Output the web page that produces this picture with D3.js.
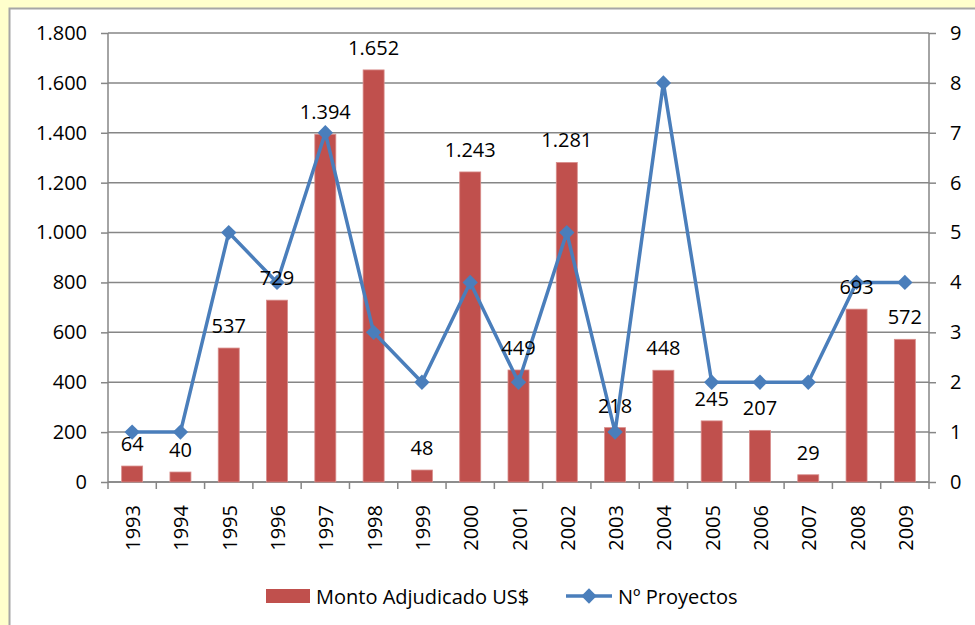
<!DOCTYPE html>
<html>
<head>
<meta charset="utf-8">
<script src="https://cdn.jsdelivr.net/npm/d3@7"></script>
<style>
  html, body { margin: 0; padding: 0; background: #ffffcc; }
  svg { display: block; }
  text { font-family: "Open Sans", "Noto Sans", sans-serif; fill: #000; }
</style>
</head>
<body>
<svg id="chart"></svg>
<script>
// data ////////////////////////////////////////////////////////////////
var years = ["1993", "1994", "1995", "1996", "1997", "1998", "1999", "2000", "2001",
             "2002", "2003", "2004", "2005", "2006", "2007", "2008", "2009"];
var montos = [64, 40, 537, 729, 1394, 1652, 48, 1243, 449, 1281, 218, 448, 245, 207, 29, 693, 572];
var proyectos = [1, 1, 5, 4, 7, 3, 2, 4, 2, 5, 1, 8, 2, 2, 2, 4, 4];
var leftTicks = [0, 200, 400, 600, 800, 1000, 1200, 1400, 1600, 1800];
var rightTicks = [0, 1, 2, 3, 4, 5, 6, 7, 8, 9];
var seriesNames = ["Monto Adjudicado US$", "Nº Proyectos"];

var WIDTH = 975, HEIGHT = 625;
var LEFT = 108, RIGHT = 929, TOP = 33, BOTTOM = 482;
var BAR_COLOUR = "#c0504d", LINE_COLOUR = "#4a7ebb", GRID_COLOUR = "#868686";
var FONT_SIZE = 20;

// spanish number format: 1.394
var fmt = d3.formatLocale({ decimal: ",", thousands: ".", grouping: [3], currency: ["", ""] }).format(",d");

var svg = d3.select("#chart").attr("width", WIDTH).attr("height", HEIGHT);

// white chart area with gray border
svg.append("rect")
    .attr("x", 9.5).attr("y", 8.5)
    .attr("width", WIDTH).attr("height", HEIGHT)
    .attr("fill", "white")
    .attr("stroke", "#a6a6a6")
    .attr("stroke-width", 2);

// scales
var x = d3.scaleBand().domain(years).range([LEFT, RIGHT]).paddingInner(0).paddingOuter(0);
var y = d3.scaleLinear().domain([0, 1800]).range([BOTTOM, TOP]);
var y2 = d3.scaleLinear().domain([0, 9]).range([BOTTOM, TOP]);

// left axis
var leftAxis = svg.append("g")
    .attr("transform", "translate(" + LEFT + ",0)")
    .call(d3.axisLeft(y).tickValues(leftTicks).tickFormat(fmt).tickSize(7).tickPadding(14));
leftAxis.select(".domain").attr("stroke", GRID_COLOUR).attr("stroke-width", 1.5).attr("d", "M0," + BOTTOM + "V" + TOP);
leftAxis.selectAll(".tick line").attr("stroke", GRID_COLOUR).attr("stroke-width", 1.5);
leftAxis.selectAll(".tick text").attr("font-size", FONT_SIZE).attr("font-family", "Open Sans").attr("fill", "#000");

// gridlines
svg.append("g")
    .selectAll("line")
    .data(leftTicks)
    .enter().append("line")
    .attr("x1", LEFT).attr("x2", RIGHT)
    .attr("y1", function (d) { return y(d); })
    .attr("y2", function (d) { return y(d); })
    .attr("stroke", GRID_COLOUR)
    .attr("stroke-width", 1.5);

// right axis
var rightAxis = svg.append("g")
    .attr("transform", "translate(" + RIGHT + ",0)")
    .call(d3.axisRight(y2).tickValues(rightTicks).tickFormat(d3.format("d")).tickSize(7).tickPadding(14));
rightAxis.select(".domain").attr("stroke", GRID_COLOUR).attr("stroke-width", 1.5).attr("d", "M0," + BOTTOM + "V" + TOP);
rightAxis.selectAll(".tick line").attr("stroke", GRID_COLOUR).attr("stroke-width", 1.5);
rightAxis.selectAll(".tick text").attr("font-size", FONT_SIZE).attr("font-family", "Open Sans").attr("fill", "#000");

// bottom axis - ticks between categories
var xTicks = years.map(function (d) { return x(d); }).concat([RIGHT]);
svg.append("line")
    .attr("x1", LEFT).attr("x2", RIGHT)
    .attr("y1", BOTTOM).attr("y2", BOTTOM)
    .attr("stroke", GRID_COLOUR).attr("stroke-width", 1.5);
svg.append("g")
    .selectAll("line")
    .data(xTicks)
    .enter().append("line")
    .attr("x1", function (d) { return d; })
    .attr("x2", function (d) { return d; })
    .attr("y1", BOTTOM).attr("y2", BOTTOM + 7)
    .attr("stroke", GRID_COLOUR).attr("stroke-width", 1.5);

svg.append("g")
    .selectAll("text")
    .data(years)
    .enter().append("text")
    .attr("transform", function (d) {
        return "translate(" + (x(d) + x.bandwidth() / 2 + 8) + "," + (BOTTOM + 23) + ") rotate(-90)";
    })
    .attr("text-anchor", "end")
    .attr("font-size", FONT_SIZE)
    .text(function (d) { return d; });

// bars
var barW = 21;
svg.append("g")
    .selectAll("rect")
    .data(montos)
    .enter().append("rect")
    .attr("x", function (d, i) { return x(years[i]) + x.bandwidth() / 2 - barW / 2; })
    .attr("y", function (d) { return y(d); })
    .attr("width", barW)
    .attr("height", function (d) { return BOTTOM - y(d); })
    .attr("fill", BAR_COLOUR)
    .attr("stroke", "#d88d8b")
    .attr("stroke-width", 0.8);

// line + diamond markers
var line = d3.line()
    .x(function (d, i) { return x(years[i]) + x.bandwidth() / 2; })
    .y(function (d) { return y2(d); });

svg.append("path")
    .datum(proyectos)
    .attr("d", line)
    .attr("fill", "none")
    .attr("stroke", LINE_COLOUR)
    .attr("stroke-width", 3.5)
    .attr("stroke-linejoin", "round");

var diamond = d3.symbol().type(d3.symbolDiamond2).size(150);
svg.append("g")
    .selectAll("path")
    .data(proyectos)
    .enter().append("path")
    .attr("d", diamond)
    .attr("transform", function (d, i) {
        return "translate(" + (x(years[i]) + x.bandwidth() / 2) + "," + y2(d) + ")";
    })
    .attr("fill", LINE_COLOUR);

// data labels above bars
svg.append("g")
    .selectAll("text")
    .data(montos)
    .enter().append("text")
    .attr("x", function (d, i) { return x(years[i]) + x.bandwidth() / 2; })
    .attr("y", function (d) { return y(d) - 15; })
    .attr("text-anchor", "middle")
    .attr("font-size", FONT_SIZE)
    .text(function (d) { return fmt(d); });

// legend
var legend = svg.append("g");
legend.append("rect")
    .attr("x", 266).attr("y", 589)
    .attr("width", 44).attr("height", 14)
    .attr("fill", BAR_COLOUR);
legend.append("text")
    .attr("x", 316).attr("y", 604)
    .attr("font-size", FONT_SIZE)
    .text(seriesNames[0]);
legend.append("line")
    .attr("x1", 566).attr("x2", 612)
    .attr("y1", 596).attr("y2", 596)
    .attr("stroke", LINE_COLOUR).attr("stroke-width", 3.5);
legend.append("path")
    .attr("d", diamond)
    .attr("transform", "translate(589,596)")
    .attr("fill", LINE_COLOUR);
legend.append("text")
    .attr("x", 618).attr("y", 604)
    .attr("font-size", FONT_SIZE)
    .text(seriesNames[1]);
</script>
</body>
</html>
